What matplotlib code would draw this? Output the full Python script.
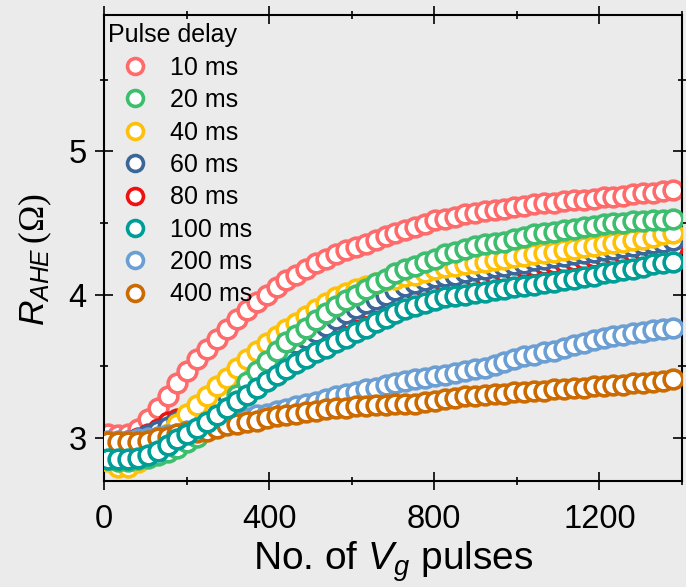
import numpy as np
import matplotlib
matplotlib.use("Agg")
import matplotlib.pyplot as plt
from matplotlib.ticker import MultipleLocator

plt.rcParams['font.family'] = ['Liberation Sans', 'DejaVu Sans']
plt.rcParams['mathtext.fontset'] = 'custom'
plt.rcParams['mathtext.it'] = 'Liberation Sans:italic'
plt.rcParams['mathtext.rm'] = 'Liberation Serif'

pulses = np.arange(10, 1390, 24)

labels = ['10 ms', '20 ms', '40 ms', '60 ms', '80 ms', '100 ms', '200 ms', '400 ms']
colors = ['#FF6B6B', '#3DBE6E', '#FFC107', '#3A6699', '#EE1111', '#009C96', '#6B9FD3', '#CC6A00']

r_10ms = [3.03, 3.02, 3.03, 3.06, 3.13, 3.21, 3.29, 3.38, 3.47, 3.55, 3.62, 3.69, 3.76, 3.83, 3.89,
          3.95, 4.00, 4.05, 4.10, 4.14, 4.18, 4.22, 4.25, 4.28, 4.31, 4.33, 4.35, 4.38, 4.41, 4.43,
          4.45, 4.47, 4.49, 4.52, 4.53, 4.54, 4.56, 4.57, 4.58, 4.59, 4.60, 4.61, 4.62, 4.63, 4.64,
          4.64, 4.65, 4.66, 4.66, 4.67, 4.68, 4.68, 4.69, 4.70, 4.71, 4.71, 4.72, 4.73]
r_20ms = [2.85, 2.84, 2.84, 2.85, 2.86, 2.88, 2.90, 2.93, 2.97, 3.01, 3.06, 3.13, 3.21, 3.30, 3.39,
          3.47, 3.54, 3.61, 3.67, 3.72, 3.77, 3.82, 3.87, 3.92, 3.96, 4.00, 4.04, 4.08, 4.11, 4.15,
          4.18, 4.20, 4.23, 4.25, 4.28, 4.30, 4.32, 4.34, 4.35, 4.36, 4.37, 4.39, 4.40, 4.42, 4.43,
          4.44, 4.45, 4.46, 4.47, 4.48, 4.49, 4.50, 4.50, 4.51, 4.51, 4.52, 4.52, 4.53]
r_40ms = [2.84, 2.80, 2.80, 2.83, 2.88, 2.95, 3.03, 3.10, 3.17, 3.23, 3.29, 3.36, 3.42, 3.49, 3.55,
          3.61, 3.66, 3.71, 3.76, 3.80, 3.85, 3.90, 3.94, 3.98, 4.01, 4.04, 4.06, 4.08, 4.10, 4.11,
          4.13, 4.14, 4.16, 4.18, 4.19, 4.20, 4.21, 4.22, 4.23, 4.24, 4.25, 4.26, 4.27, 4.28, 4.29,
          4.30, 4.31, 4.32, 4.33, 4.34, 4.35, 4.36, 4.37, 4.38, 4.39, 4.40, 4.42, 4.43]
r_60ms = [2.95, 2.96, 2.97, 2.99, 3.02, 3.05, 3.08, 3.11, 3.15, 3.19, 3.23, 3.27, 3.31, 3.36, 3.41,
          3.46, 3.51, 3.56, 3.61, 3.66, 3.70, 3.74, 3.78, 3.83, 3.87, 3.91, 3.94, 3.97, 4.00, 4.03,
          4.06, 4.08, 4.10, 4.12, 4.13, 4.14, 4.16, 4.17, 4.18, 4.19, 4.20, 4.21, 4.22, 4.24, 4.25,
          4.26, 4.27, 4.28, 4.29, 4.30, 4.31, 4.32, 4.33, 4.34, 4.35, 4.36, 4.37, 4.38]
r_80ms = [2.95, 2.96, 2.98, 3.00, 3.03, 3.06, 3.11, 3.13, 3.15, 3.19, 3.23, 3.27, 3.31, 3.36, 3.42,
          3.47, 3.51, 3.55, 3.59, 3.63, 3.67, 3.71, 3.75, 3.80, 3.84, 3.88, 3.91, 3.94, 3.97, 3.99,
          4.01, 4.03, 4.05, 4.06, 4.08, 4.09, 4.11, 4.12, 4.13, 4.14, 4.16, 4.17, 4.19, 4.20, 4.21,
          4.22, 4.23, 4.24, 4.25, 4.26, 4.27, 4.28, 4.29, 4.30, 4.31, 4.32, 4.32, 4.33]
r_100ms = [2.85, 2.85, 2.85, 2.86, 2.88, 2.91, 2.95, 2.99, 3.03, 3.07, 3.11, 3.16, 3.21, 3.26, 3.30,
           3.35, 3.40, 3.44, 3.48, 3.52, 3.56, 3.60, 3.63, 3.67, 3.70, 3.74, 3.77, 3.81, 3.84, 3.87,
           3.90, 3.92, 3.94, 3.96, 3.98, 3.99, 4.00, 4.01, 4.02, 4.03, 4.04, 4.05, 4.06, 4.07, 4.08,
           4.09, 4.10, 4.11, 4.12, 4.13, 4.15, 4.16, 4.17, 4.18, 4.19, 4.21, 4.22, 4.23]
r_200ms = [2.98, 2.98, 2.98, 2.99, 3.00, 3.01, 3.02, 3.03, 3.05, 3.06, 3.08, 3.09, 3.11, 3.13, 3.14,
           3.16, 3.17, 3.19, 3.20, 3.22, 3.24, 3.25, 3.27, 3.29, 3.31, 3.32, 3.34, 3.35, 3.37, 3.38,
           3.40, 3.41, 3.42, 3.43, 3.44, 3.45, 3.47, 3.48, 3.49, 3.51, 3.53, 3.55, 3.57, 3.58, 3.60,
           3.61, 3.63, 3.65, 3.66, 3.68, 3.70, 3.71, 3.72, 3.73, 3.74, 3.75, 3.76, 3.77]
r_400ms = [2.97, 2.97, 2.97, 2.97, 2.98, 3.00, 3.01, 3.03, 3.04, 3.04, 3.05, 3.07, 3.09, 3.10, 3.11,
           3.12, 3.14, 3.15, 3.16, 3.17, 3.18, 3.19, 3.20, 3.21, 3.21, 3.22, 3.22, 3.23, 3.23, 3.24,
           3.24, 3.24, 3.25, 3.26, 3.27, 3.28, 3.29, 3.29, 3.30, 3.31, 3.31, 3.32, 3.32, 3.33, 3.33,
           3.34, 3.34, 3.35, 3.35, 3.36, 3.36, 3.37, 3.37, 3.38, 3.38, 3.39, 3.40, 3.41]

series = [r_10ms, r_20ms, r_40ms, r_60ms, r_80ms, r_100ms, r_200ms, r_400ms]
zorders = [2, 6, 5, 4, 3, 9, 7, 8]

bg = '#EBEBEB'
fig = plt.figure(figsize=(6.86, 5.87), dpi=100, facecolor=bg)
ax = fig.add_axes([104/686, 106/587, (682-104)/686, (481-15)/587])
ax.set_facecolor(bg)

for y, c, lab, z in zip(series, colors, labels, zorders):
    ax.plot(pulses, y, linestyle='none', marker='o', markersize=13.5,
            markerfacecolor='white', markeredgecolor=c, markeredgewidth=2.6,
            label=lab, zorder=z, clip_on=True)

ax.set_xlim(0, 1400)
ax.set_ylim(2.70, 5.95)
ax.xaxis.set_major_locator(MultipleLocator(400))
ax.xaxis.set_minor_locator(MultipleLocator(200))
ax.yaxis.set_major_locator(MultipleLocator(1))
ax.yaxis.set_minor_locator(MultipleLocator(0.5))

for s in ax.spines.values():
    s.set_linewidth(1.5)
ax.tick_params(which='major', direction='inout', length=13, width=1.2,
               top=True, right=True, labelsize=23.5)
ax.tick_params(axis='x', which='major', pad=10)
ax.tick_params(axis='y', which='major', pad=6)
ax.tick_params(which='minor', direction='inout', length=6, width=1.2,
               top=True, right=True)

ax.set_xlabel(r'No. of $V_g$ pulses', fontsize=28, labelpad=3)
ax.set_ylabel(r'$R_{AHE}\,\mathrm{(\Omega)}$', fontsize=25.5)
ax.yaxis.set_label_coords(-0.087, 0.474)

leg = ax.legend(loc='upper left', bbox_to_anchor=(0.007, 0.982), frameon=False,
                title='Pulse delay', title_fontsize=18, fontsize=18,
                alignment='left', labelspacing=0.335, handletextpad=0.32,
                borderpad=0.0, borderaxespad=0.0, markerscale=0.85, handlelength=2.16)

fig.savefig('out.png', dpi=100, facecolor=bg)
